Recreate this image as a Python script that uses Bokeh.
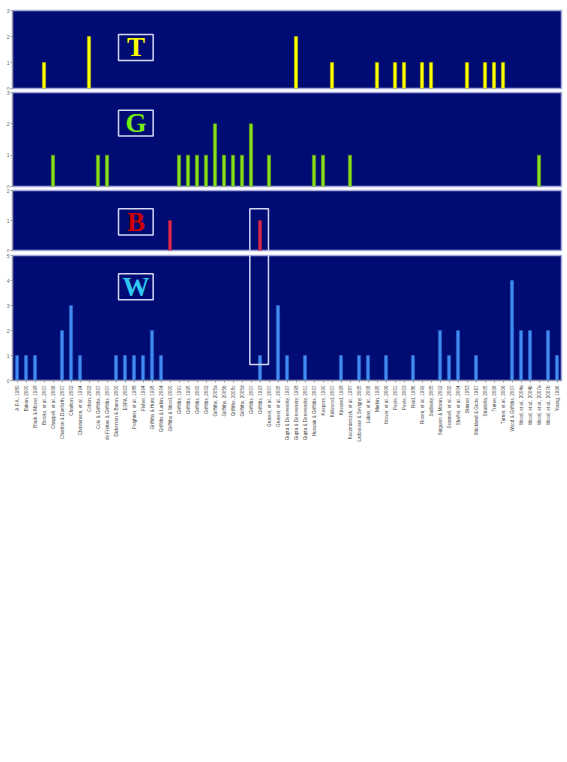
import math
from bokeh.plotting import figure
from bokeh.layouts import column
from bokeh.models import FactorRange, Range1d, FixedTicker
from bokeh.core.properties import value
from bokeh.embed import file_html
from bokeh.resources import INLINE

categories = [
    "A.P.A., 1980", "Bakan, 2000", "Black & Moyer, 1998", "Brooks, et al., 2007",
    "Chappell, et al., 2006", "Charlton & Danforth, 2007", "Charlton, 2002",
    "Christenson, et al., 1994", "Cohen, 2002", "Cole & Griffiths, 2007",
    "de Freitas & Griffiths, 2007", "Dickerson & Baron, 2000", "ESPA, 2003",
    "Feighner, et al., 1988", "Fisher, 1994", "Griffiths & Hunt, 1998",
    "Griffiths & Larkin, 2004", "Griffiths & Wood, 2000", "Griffiths, 1991",
    "Griffiths, 1995", "Griffiths, 2000", "Griffiths, 2002", "Griffiths, 2005a",
    "Griffiths, 2005b", "Griffiths, 2005c", "Griffiths, 2005d", "Griffiths, 2007",
    "Griffiths, 1993", "Grusser, et al., 2007", "Grusser, et al., 2005",
    "Gupta & Derevensky, 1997", "Gupta & Derevensky, 1998", "Gupta & Derevensky, 2001",
    "Hussain & Griffiths, 2007", "Keepers, 1990", "Kirkwood, 2007", "Kirwand, 1998",
    "Kuczmierczyk, et al., 1987", "Ladouceur & Sevigny, 2005", "Lukas, et al., 2006",
    "Murkin, 1995", "Nower, et al., 2006", "Peele, 2001", "Peele, 2003", "Reid, 1986",
    "Rosen, et al., 1999", "Sadinsky, 2005", "Salguero & Moran, 2002",
    "Scannell, et al., 2000", "Shaffer, et al., 2004", "Skinner, 1953",
    "Strickland & Grote, 1967", "Stradella, 2005", "Turner, 2006",
    "Turner, et al., 2006", "Wood & Griffiths, 2007", "Wood, et al., 2004a",
    "Wood, et al., 2004b", "Wood, et al., 2007a", "Wood, et al., 2007b", "Young, 1996",
]

t_counts = [0, 0, 0, 1, 0, 0, 0, 0, 2, 0,
            0, 0, 0, 0, 0, 0, 0, 0, 0, 0,
            0, 0, 0, 0, 0, 0, 0, 0, 0, 0,
            0, 2, 0, 0, 0, 1, 0, 0, 0, 0,
            1, 0, 1, 1, 0, 1, 1, 0, 0, 0,
            1, 0, 1, 1, 1, 0, 0, 0, 0, 0,
            0]
g_counts = [0, 0, 0, 0, 1, 0, 0, 0, 0, 1,
            1, 0, 0, 0, 0, 0, 0, 0, 1, 1,
            1, 1, 2, 1, 1, 1, 2, 0, 1, 0,
            0, 0, 0, 1, 1, 0, 0, 1, 0, 0,
            0, 0, 0, 0, 0, 0, 0, 0, 0, 0,
            0, 0, 0, 0, 0, 0, 0, 0, 1, 0,
            0]
b_counts = [0, 0, 0, 0, 0, 0, 0, 0, 0, 0,
            0, 0, 0, 0, 0, 0, 0, 1, 0, 0,
            0, 0, 0, 0, 0, 0, 0, 1, 0, 0,
            0, 0, 0, 0, 0, 0, 0, 0, 0, 0,
            0, 0, 0, 0, 0, 0, 0, 0, 0, 0,
            0, 0, 0, 0, 0, 0, 0, 0, 0, 0,
            0]
w_counts = [1, 1, 1, 0, 0, 2, 3, 1, 0, 0,
            0, 1, 1, 1, 1, 2, 1, 0, 0, 0,
            0, 0, 0, 0, 0, 0, 0, 1, 0, 3,
            1, 0, 1, 0, 0, 0, 1, 0, 1, 1,
            0, 1, 0, 0, 1, 0, 0, 2, 1, 2,
            0, 1, 0, 0, 0, 4, 2, 2, 0, 2,
            1]

panel_letters = ["T", "G", "B", "W"]
panel_ymax = [3, 3, 2, 5]

NAVY = "#000C73"
OUTLINE = "#A4A9DC"
BOXLINE = "#D4D6F2"

x_range = FactorRange(*categories, range_padding=0)

WIDTH = 563
LEFT = 12
RIGHT = 2


def make_panel(counts, ymax, bar_color, bar_line, letter, letter_color,
               height, top, bottom, box_y, show_x=False):
    p = figure(x_range=x_range, y_range=Range1d(0, ymax), width=WIDTH, height=height,
               output_backend="svg", toolbar_location=None,
               min_border_left=LEFT, min_border_right=RIGHT,
               min_border_top=top, min_border_bottom=bottom)
    p.background_fill_color = NAVY
    p.border_fill_color = "white"
    p.outline_line_color = OUTLINE
    p.outline_line_width = 1.5
    p.xgrid.visible = False
    p.ygrid.visible = False

    xs = [c for c, v in zip(categories, counts) if v > 0]
    ys = [v for v in counts if v > 0]
    p.vbar(x=xs, top=ys, width=0.36, fill_color=bar_color, line_color=bar_line,
           line_width=0.6)

    # letter box
    p.quad(left=11.78, right=15.63, bottom=box_y[0], top=box_y[1],
           fill_color=None, line_color=BOXLINE, line_width=1.5)
    p.text(x=[13.72], y=[(box_y[0] + box_y[1]) / 2], text=[letter], text_color=letter_color,
           text_font=value("Liberation Serif"), text_font_style="bold",
           text_font_size="27px", text_align="center", text_baseline="middle")

    ya = p.yaxis[0]
    ya.ticker = FixedTicker(ticks=list(range(ymax + 1)))
    ya.minor_tick_line_color = None
    ya.major_tick_out = 2
    ya.major_tick_in = 0
    ya.major_tick_line_color = "#999999"
    ya.axis_line_color = "#999999"
    ya.major_label_text_font_size = "5px"
    ya.major_label_text_color = "#666666"
    ya.major_label_standoff = 1

    xa = p.xaxis[0]
    if show_x:
        xa.major_label_orientation = math.pi / 2
        xa.major_label_text_font_size = "4.6px"
        xa.major_label_text_font = "Liberation Sans"
        xa.major_label_text_color = "#444444"
        xa.major_label_standoff = 3
        xa.major_tick_out = 2
        xa.major_tick_in = 0
        xa.major_tick_line_color = "#999999"
        xa.axis_line_color = "#999999"
        xa.group_text_font_size = "0px"
    else:
        xa.visible = False
    return p


pT = make_panel(t_counts, panel_ymax[0], "#FFFF00", "#B8B800", panel_letters[0], "#FFFF00",
                90, 10, 2, (1.08, 2.08))
pG = make_panel(g_counts, panel_ymax[1], "#86E01C", "#5FA010", panel_letters[1], "#77EE11",
                98, 2, 2, (1.61, 2.43))
pB = make_panel(b_counts, panel_ymax[2], "#DC2A52", "#A01838", panel_letters[2], "#CC0000",
                64, 2, 2, (0.52, 1.39))
pW = make_panel(w_counts, panel_ymax[3], "#428BF5", "#2A62C0", panel_letters[3], "#30C8F2",
                223, 3, 95, (3.23, 4.27), show_x=True)

# highlight rectangle around "Griffiths, 1993"
pB.quad(left=26.37, right=28.44, bottom=-1, top=1.39,
        fill_color=None, line_color=BOXLINE, line_width=1.5)
pW.quad(left=26.37, right=28.44, bottom=0.64, top=6,
        fill_color=None, line_color=BOXLINE, line_width=1.5)

layout = column(pT, pG, pB, pW, spacing=0)

open("out.html", "w").write(file_html(layout, INLINE))
